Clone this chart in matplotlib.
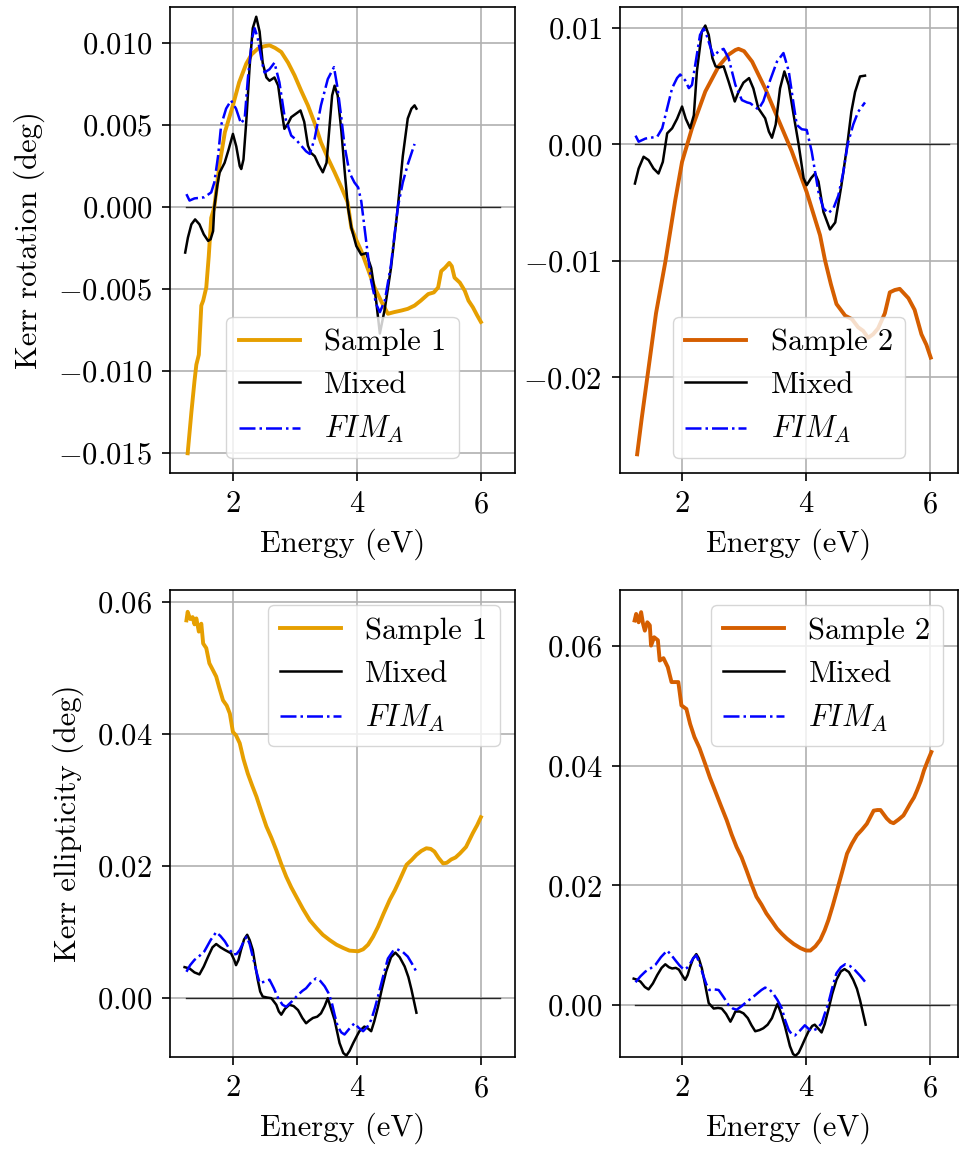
import matplotlib
matplotlib.use("Agg")
import matplotlib.pyplot as plt
from matplotlib.ticker import MultipleLocator

plt.rcParams['font.family'] = ['cmr10', 'DejaVu Serif']
plt.rcParams['mathtext.fontset'] = 'cm'
plt.rcParams['axes.formatter.use_mathtext'] = True
plt.rcParams['font.size'] = 22
plt.rcParams['axes.unicode_minus'] = True
plt.rcParams['axes.linewidth'] = 1.2
plt.rcParams['xtick.major.size'] = 5.5
plt.rcParams['ytick.major.size'] = 5.5
plt.rcParams['xtick.major.width'] = 1.2
plt.rcParams['ytick.major.width'] = 1.2
plt.rcParams['xtick.major.pad'] = 7.5
plt.rcParams['ytick.major.pad'] = 7.5
plt.rcParams['axes.labelpad'] = 7

# ---------------- data ----------------
# Kerr rotation, sample 1
e_s1_rot = [1.27, 1.33, 1.38, 1.41, 1.45, 1.49, 1.52, 1.57, 1.61, 1.65, 1.70, 1.78, 1.87, 2.00, 2.10, 2.215, 2.30,
            2.40, 2.50, 2.59, 2.68, 2.78, 2.89, 2.995, 3.10, 3.21, 3.32, 3.42, 3.53, 3.64, 3.75, 3.85, 3.91,
            3.99, 4.07, 4.18, 4.285, 4.40, 4.50, 4.60, 4.72, 4.82, 4.93, 5.03, 5.15, 5.24, 5.31, 5.36, 5.42,
            5.49, 5.53, 5.575, 5.66, 5.74, 5.80, 5.87, 5.94, 6.00]
s1_rot = [-0.0150, -0.0125, -0.0106, -0.0096, -0.0090, -0.0060, -0.0057, -0.0049, -0.0030, -0.00065, 0.0,
          0.0025, 0.00456, 0.0062, 0.0076, 0.00874, 0.0093, 0.00965, 0.0098, 0.00986, 0.0097, 0.00945,
          0.0088, 0.00802, 0.0071, 0.00619, 0.0051, 0.00395, 0.0030, 0.00212, 0.0012, 0.0003, -0.00126,
          -0.0020, -0.00267, -0.0038, -0.0049, -0.0058, -0.0065, -0.0064, -0.0063, -0.0062, -0.0060,
          -0.0057, -0.0053, -0.0052, -0.0049, -0.0039, -0.0037, -0.0034, -0.0036, -0.0043, -0.0046,
          -0.0051, -0.0057, -0.0061, -0.0066, -0.0070]

e_mix_rot1 = [1.23, 1.274, 1.33, 1.39, 1.46, 1.53, 1.60, 1.64, 1.68, 1.70, 1.747, 1.785, 1.866, 1.93, 2.00,
              2.054, 2.11, 2.134, 2.17, 2.215, 2.27, 2.32, 2.376, 2.43, 2.48, 2.54, 2.59, 2.67, 2.73, 2.78,
              2.83, 2.89, 2.94, 3.02, 3.09, 3.15, 3.21, 3.26, 3.32, 3.38, 3.45, 3.51, 3.56, 3.60, 3.64, 3.69,
              3.75, 3.80, 3.855, 3.91, 3.99, 4.07, 4.15, 4.23, 4.31, 4.37, 4.45, 4.55, 4.66, 4.74, 4.82,
              4.88, 4.93, 4.96]
mix_rot1 = [-0.00277, -0.00186, -0.00105, -0.00075, -0.00105, -0.00166, -0.00206, -0.00196, -0.00146, 0.0,
            0.0013, 0.0021, 0.0027, 0.0035, 0.00446, 0.0037, 0.0025, 0.00232, 0.0029, 0.0052, 0.0086, 0.0109,
            0.0116, 0.0107, 0.0088, 0.0079, 0.0077, 0.0079, 0.0074, 0.0060, 0.00477, 0.0051, 0.00548,
            0.0057, 0.00589, 0.0052, 0.00375, 0.0033, 0.0031, 0.0026, 0.00212, 0.0027, 0.0050, 0.0068,
            0.0074, 0.0068, 0.0046, 0.0023, 0.0, -0.00125, -0.00237, -0.0029, -0.0028, -0.0037, -0.0057,
            -0.0077, -0.0062, -0.0037, 0.0, 0.0031, 0.0054, 0.0060, 0.0062, 0.0060]

e_fim_rot1 = [1.25, 1.30, 1.38, 1.54, 1.65, 1.70, 1.76, 1.81, 1.89, 1.97, 2.05, 2.13, 2.19, 2.24, 2.31, 2.35,
              2.40, 2.47, 2.51, 2.59, 2.67, 2.75, 2.83, 2.94, 3.02, 3.10, 3.18, 3.24, 3.32, 3.42, 3.53, 3.63,
              3.69, 3.75, 3.80, 3.88, 3.96, 4.02, 4.07, 4.15, 4.23, 4.31, 4.37, 4.45, 4.55, 4.66, 4.74,
              4.82, 4.93]
fim_rot1 = [0.00079, 0.0004, 0.00053, 0.0006, 0.0009, 0.0015, 0.0031, 0.0050, 0.0060, 0.0065, 0.0060,
            0.0051, 0.0054, 0.0078, 0.0103, 0.0109, 0.0103, 0.0088, 0.0082, 0.0084, 0.0088, 0.0076, 0.0056,
            0.00436, 0.0041, 0.00375, 0.0034, 0.00324, 0.0042, 0.0062, 0.0078, 0.00853, 0.0072, 0.0054,
            0.00375, 0.0021, 0.0015, 0.0012, 0.00036, -0.0021, -0.0045, -0.0059, -0.0064, -0.0057,
            -0.0035, 0.0, 0.0015, 0.0026, 0.00385]

# Kerr rotation, sample 2
e_s2_rot = [1.276, 1.35, 1.46, 1.58, 1.73, 1.89, 2.00, 2.16, 2.375, 2.59, 2.75, 2.86, 2.91, 3.00, 3.13, 3.34,
            3.555, 3.77, 4.01, 4.225, 4.305, 4.40, 4.49, 4.63, 4.74, 4.84, 4.92, 5.00, 5.08, 5.16, 5.27,
            5.35, 5.43, 5.51, 5.58, 5.65, 5.75, 5.86, 5.94, 6.01]
s2_rot = [-0.0266, -0.0235, -0.0192, -0.0145, -0.0101, -0.0048, -0.0015, 0.00138, 0.00454, 0.0067, 0.0077,
          0.0081, 0.0082, 0.0080, 0.0071, 0.0048, 0.0021, -0.0006, -0.0041, -0.0078, -0.00994, -0.0120,
          -0.0137, -0.0147, -0.0150, -0.0157, -0.0160, -0.0166, -0.0163, -0.0158, -0.0145, -0.0127,
          -0.0125, -0.0124, -0.0128, -0.0132, -0.0142, -0.0163, -0.0172, -0.0183]

e_mix_rot2 = [1.24, 1.30, 1.38, 1.46, 1.54, 1.62, 1.69, 1.76, 1.84, 1.92, 2.00, 2.06, 2.13, 2.19, 2.24, 2.32,
              2.375, 2.43, 2.49, 2.54, 2.60, 2.67, 2.75, 2.85, 2.91, 2.99, 3.08, 3.15, 3.23, 3.34, 3.40,
              3.45, 3.51, 3.58, 3.65, 3.72, 3.80, 3.88, 3.96, 4.01, 4.08, 4.145, 4.20, 4.28, 4.385, 4.47,
              4.57, 4.665, 4.73, 4.79, 4.87, 4.95]
mix_rot2 = [-0.00336, -0.00207, -0.00106, -0.00135, -0.00207, -0.0025, -0.0015, 0.00095, 0.00138, 0.0022,
            0.00325, 0.0022, 0.00138, 0.0025, 0.0063, 0.0097, 0.0102, 0.0094, 0.0074, 0.0067, 0.0066, 0.0067,
            0.0054, 0.00368, 0.0045, 0.0053, 0.00569, 0.0048, 0.0031, 0.00224, 0.0011, 0.00057, 0.0017,
            0.0048, 0.00626, 0.0051, 0.0025, 0.0, -0.0029, -0.0035, -0.0029, -0.0025, -0.0032, -0.0058,
            -0.0073, -0.0067, -0.0035, 0.0, 0.0028, 0.0045, 0.00583, 0.0059]

e_fim_rot2 = [1.25, 1.30, 1.41, 1.60, 1.68, 1.76, 1.84, 1.92, 1.97, 2.05, 2.11, 2.16, 2.23, 2.29, 2.35, 2.40,
              2.46, 2.51, 2.59, 2.67, 2.75, 2.86, 2.965, 3.05, 3.10, 3.18, 3.23, 3.31, 3.42, 3.53, 3.635,
              3.72, 3.80, 3.85, 3.93, 4.01, 4.09, 4.20, 4.28, 4.36, 4.44, 4.52, 4.60, 4.67, 4.76, 4.84, 4.95]
fim_rot2 = [0.00075, 0.00023, 0.0005, 0.00066, 0.00138, 0.0031, 0.00483, 0.0057, 0.0060, 0.0055, 0.00483,
            0.0051, 0.0074, 0.0094, 0.00994, 0.0093, 0.0083, 0.00756, 0.0080, 0.0082, 0.0074, 0.0051, 0.0038,
            0.0036, 0.00353, 0.0032, 0.0030, 0.0037, 0.0055, 0.0071, 0.00784, 0.0063, 0.0034, 0.00167,
            0.0013, 0.00124, -0.0006, -0.0041, -0.0055, -0.0059, -0.0055, -0.0044, -0.0024, 0.0, 0.0017,
            0.0028, 0.0036]

# Kerr ellipticity, sample 1
e_s1_ell = [1.25, 1.27, 1.31, 1.35, 1.38, 1.41, 1.45, 1.49, 1.52, 1.57, 1.62, 1.67, 1.73, 1.78, 1.84, 1.90,
            1.95, 2.00, 2.05, 2.11, 2.17, 2.24, 2.31, 2.38, 2.46, 2.54, 2.62, 2.70, 2.78, 2.86, 2.94, 3.02,
            3.13, 3.24, 3.35, 3.45, 3.56, 3.67, 3.78, 3.88, 4.02, 4.10, 4.18, 4.26, 4.34, 4.43, 4.53,
            4.61, 4.69, 4.80, 4.88, 4.96, 5.04, 5.12, 5.19, 5.25, 5.32, 5.39, 5.45, 5.52, 5.59, 5.66, 5.76,
            5.87, 5.94, 6.00]
s1_ell = [0.0572, 0.0585, 0.0574, 0.0577, 0.0566, 0.0575, 0.0555, 0.0567, 0.0537, 0.0530, 0.0507, 0.0498,
          0.0487, 0.0470, 0.0451, 0.0443, 0.0431, 0.0403, 0.0398, 0.0386, 0.0362, 0.0340, 0.0322, 0.0305,
          0.0282, 0.0260, 0.0243, 0.0224, 0.0203, 0.0184, 0.0168, 0.0154, 0.0135, 0.0118, 0.0106, 0.0096,
          0.0088, 0.0081, 0.0076, 0.0072, 0.0071, 0.0074, 0.0081, 0.0093, 0.0108, 0.0128, 0.0149, 0.0163,
          0.0179, 0.0202, 0.0209, 0.0217, 0.0223, 0.0227, 0.0226, 0.0222, 0.0212, 0.0204, 0.0205, 0.0210,
          0.0213, 0.0219, 0.0229, 0.0250, 0.0262, 0.0274]

e_mix_ell1 = [1.22, 1.30, 1.38, 1.46, 1.53, 1.60, 1.67, 1.73, 1.80, 1.87, 1.97, 2.02, 2.05, 2.09, 2.13, 2.18,
              2.23, 2.27, 2.32, 2.36, 2.40, 2.44, 2.48, 2.55, 2.62, 2.70, 2.74, 2.78, 2.84, 2.91, 2.98, 3.05,
              3.12, 3.18, 3.23, 3.29, 3.36, 3.42, 3.48, 3.53, 3.58, 3.64, 3.72, 3.78, 3.83, 3.88, 3.94, 4.00,
              4.04, 4.12, 4.18, 4.23, 4.28, 4.34, 4.40, 4.47, 4.55, 4.62, 4.69, 4.77, 4.83, 4.88, 4.96]
mix_ell1 = [0.0047, 0.0045, 0.0039, 0.0036, 0.0048, 0.0063, 0.0077, 0.0082, 0.0077, 0.0073, 0.0068, 0.0058,
            0.0050, 0.0058, 0.0073, 0.0089, 0.0096, 0.0088, 0.0073, 0.0050, 0.0028, 0.0010, 0.00025, 0.0001,
            0.0, -0.0010, -0.0020, -0.0025, -0.0016, -0.0010, -0.0012, -0.0018, -0.0030, -0.0038, -0.0034,
            -0.0030, -0.0028, -0.0023, -0.0012, 0.0, -0.0015, -0.0033, -0.0068, -0.0083, -0.0087, -0.0080,
            -0.0068, -0.0057, -0.0050, -0.0043, -0.0046, -0.0050, -0.0035, -0.0013, 0.0013, 0.0040, 0.0062,
            0.0069, 0.0062, 0.0048, 0.0032, 0.0013, -0.0022]

e_fim_ell1 = [1.25, 1.31, 1.38, 1.46, 1.54, 1.64, 1.73, 1.80, 1.87, 1.94, 2.00, 2.06, 2.11, 2.17, 2.22, 2.27,
              2.32, 2.38, 2.43, 2.51, 2.59, 2.66, 2.73, 2.80, 2.86, 2.95, 3.05, 3.12, 3.18, 3.26, 3.34, 3.41,
              3.48, 3.54, 3.59, 3.64, 3.69, 3.75, 3.80, 3.88, 3.96, 4.03, 4.10, 4.17, 4.23, 4.29, 4.34, 4.42,
              4.50, 4.58, 4.65, 4.74, 4.82, 4.89, 4.96]
fim_ell1 = [0.0040, 0.0050, 0.0058, 0.0064, 0.0071, 0.0088, 0.0100, 0.0094, 0.0086, 0.0075, 0.0066, 0.0067,
            0.0073, 0.0085, 0.0093, 0.0082, 0.0063, 0.0040, 0.0023, 0.0025, 0.0028, 0.0015, 0.0, -0.0010,
            -0.0013, -0.0005, 0.0005, 0.0011, 0.0015, 0.0024, 0.0030, 0.0026, 0.0018, 0.0008, -0.0005,
            -0.0025, -0.0043, -0.0052, -0.0055, -0.0046, -0.0038, -0.0045, -0.0050, -0.0043, -0.0033,
            -0.0015, 0.00025, 0.0032, 0.0060, 0.0071, 0.0074, 0.0070, 0.0063, 0.0052, 0.0040]

# Kerr ellipticity, sample 2
e_s2_ell = [1.235, 1.26, 1.30, 1.34, 1.37, 1.40, 1.44, 1.48, 1.50, 1.55, 1.61, 1.64, 1.70, 1.77, 1.83, 1.94,
            1.99, 2.07, 2.13, 2.20, 2.28, 2.37, 2.45, 2.53, 2.62, 2.72, 2.80, 2.88, 2.96, 3.04, 3.12, 3.20,
            3.28, 3.36, 3.45, 3.53, 3.61, 3.69, 3.80, 3.91, 4.00, 4.07, 4.15, 4.23, 4.30, 4.36, 4.43, 4.50,
            4.58, 4.66, 4.74, 4.82, 4.90, 4.98, 5.04, 5.09, 5.15, 5.20, 5.25, 5.30, 5.36, 5.41, 5.49, 5.57,
            5.62, 5.68, 5.74, 5.79, 5.85, 5.90, 5.96, 6.02]
s2_ell = [0.0643, 0.0654, 0.0640, 0.0657, 0.0638, 0.0626, 0.0640, 0.0635, 0.0601, 0.0615, 0.0610, 0.0576,
          0.0580, 0.0565, 0.0540, 0.0540, 0.0501, 0.0495, 0.0470, 0.0448, 0.0430, 0.0404, 0.0380, 0.0359,
          0.0335, 0.0309, 0.0285, 0.0264, 0.0247, 0.0225, 0.0202, 0.0181, 0.0168, 0.0153, 0.0140, 0.0128,
          0.0119, 0.0111, 0.0102, 0.0095, 0.0091, 0.0091, 0.0098, 0.0109, 0.0125, 0.0142, 0.0166, 0.0192,
          0.0222, 0.0253, 0.0270, 0.0284, 0.0293, 0.0303, 0.0315, 0.0325, 0.0326, 0.0326, 0.0319, 0.0312,
          0.0306, 0.0304, 0.0310, 0.0317, 0.0326, 0.0337, 0.0347, 0.0359, 0.0375, 0.0392, 0.0408, 0.0423]

e_mix_ell2 = [1.22, 1.28, 1.33, 1.40, 1.46, 1.53, 1.60, 1.67, 1.73, 1.79, 1.84, 1.90, 1.95, 2.00, 2.05, 2.09,
              2.13, 2.18, 2.23, 2.27, 2.32, 2.37, 2.43, 2.51, 2.58, 2.64, 2.71, 2.78, 2.82, 2.86, 2.93, 2.99,
              3.06, 3.12, 3.18, 3.25, 3.31, 3.38, 3.45, 3.50, 3.54, 3.60, 3.66, 3.74, 3.79, 3.83, 3.88, 3.93,
              3.99, 4.04, 4.10, 4.14, 4.20, 4.25, 4.30, 4.36, 4.42, 4.49, 4.56, 4.62, 4.69, 4.76, 4.82, 4.87,
              4.96]
mix_ell2 = [0.0044, 0.0042, 0.0039, 0.0030, 0.0026, 0.0036, 0.0050, 0.0062, 0.0068, 0.0063, 0.0061, 0.0062,
            0.0059, 0.0050, 0.0042, 0.0050, 0.0064, 0.0078, 0.0085, 0.0078, 0.0061, 0.0035, 0.0003, -0.0006,
            -0.0005, -0.0006, -0.0015, -0.0028, -0.0020, -0.0011, -0.0011, -0.0014, -0.0022, -0.0034,
            -0.0044, -0.0042, -0.0039, -0.0033, -0.0022, -0.0008, 0.0002, -0.0015, -0.0036, -0.0069,
            -0.0082, -0.0085, -0.0080, -0.0069, -0.0055, -0.0044, -0.0035, -0.0033, -0.0040, -0.0046,
            -0.0032, -0.0008, 0.0018, 0.0042, 0.0056, 0.0060, 0.0055, 0.0042, 0.0027, 0.0008, -0.0033]

e_fim_ell2 = [1.25, 1.33, 1.41, 1.49, 1.57, 1.66, 1.76, 1.83, 1.89, 1.96, 2.03, 2.08, 2.13, 2.18, 2.23, 2.28,
              2.33, 2.39, 2.44, 2.52, 2.59, 2.67, 2.75, 2.82, 2.88, 2.96, 3.05, 3.13, 3.21, 3.28, 3.34, 3.41,
              3.47, 3.54, 3.61, 3.66, 3.72, 3.77, 3.82, 3.90, 3.98, 4.04, 4.09, 4.17, 4.25, 4.30, 4.36, 4.42,
              4.49, 4.56, 4.63, 4.71, 4.79, 4.87, 4.95]
fim_ell2 = [0.0038, 0.0048, 0.0056, 0.0061, 0.0067, 0.0080, 0.0091, 0.0083, 0.0075, 0.0066, 0.0059, 0.0062,
            0.0069, 0.0078, 0.0083, 0.0070, 0.0053, 0.0035, 0.0025, 0.0026, 0.0025, 0.0013, 0.0, -0.0006,
            -0.0008, -0.0002, 0.0006, 0.0012, 0.0019, 0.0025, 0.0029, 0.0026, 0.0019, 0.0008, -0.0006,
            -0.0025, -0.0042, -0.0049, -0.0051, -0.0043, -0.0034, -0.0040, -0.0044, -0.0040, -0.0031,
            -0.0015, 0.0003, 0.0028, 0.0053, 0.0063, 0.0068, 0.0065, 0.0058, 0.0049, 0.0039]

zero_span = [1.24, 6.3]
labels = ["Sample 1", "Sample 2"]
colors = ["#E69F00", "#D55E00"]

# ---------------- figure ----------------
fig = plt.figure(figsize=(9.61, 11.51), dpi=100)
ax_tl = fig.add_axes([0.1769, 0.5891, 0.3590, 0.4049])
ax_tr = fig.add_axes([0.6452, 0.5891, 0.3517, 0.4049])
ax_bl = fig.add_axes([0.1769, 0.0817, 0.3590, 0.4057])
ax_br = fig.add_axes([0.6452, 0.0817, 0.3517, 0.4057])

panels = [
    (ax_tl, e_s1_rot, s1_rot, e_mix_rot1, mix_rot1, e_fim_rot1, fim_rot1, 0, "lower center",
     (-0.0162, 0.0122), 0.005, (0.985, 6.55)),
    (ax_tr, e_s2_rot, s2_rot, e_mix_rot2, mix_rot2, e_fim_rot2, fim_rot2, 1, "lower center",
     (-0.0282, 0.0118), 0.01, (1.0, 6.45)),
    (ax_bl, e_s1_ell, s1_ell, e_mix_ell1, mix_ell1, e_fim_ell1, fim_ell1, 0, "upper right",
     (-0.0089, 0.0618), 0.02, (0.985, 6.55)),
    (ax_br, e_s2_ell, s2_ell, e_mix_ell2, mix_ell2, e_fim_ell2, fim_ell2, 1, "upper right",
     (-0.0087, 0.0694), 0.02, (1.0, 6.45)),
]

for ax, es, s, em, m, ef, f, k, loc, yl, ystep, xl in panels:
    ax.plot(zero_span, [0, 0], color="black", lw=1.0, alpha=0.8)
    ax.plot(es, s, color=colors[k], lw=2.8, label=labels[k])
    ax.plot(em, m, color="black", lw=1.8, label="Mixed")
    ax.plot(ef, f, color="blue", lw=1.8, ls="-.", label="$FIM_A$")
    ax.grid(True, color="#b0b0b0", lw=1.2)
    ax.set_xlim(*xl)
    ax.set_ylim(*yl)
    ax.yaxis.set_major_locator(MultipleLocator(ystep))
    ax.set_xticks([2, 4, 6])
    ax.set_xlabel("Energy (eV)")
    ax.legend(loc=loc, fontsize=22)

ax_tl.set_ylabel("Kerr rotation (deg)", labelpad=9)
ax_bl.set_ylabel("Kerr ellipticity (deg)", labelpad=9)

fig.savefig("out.png", dpi=100)
